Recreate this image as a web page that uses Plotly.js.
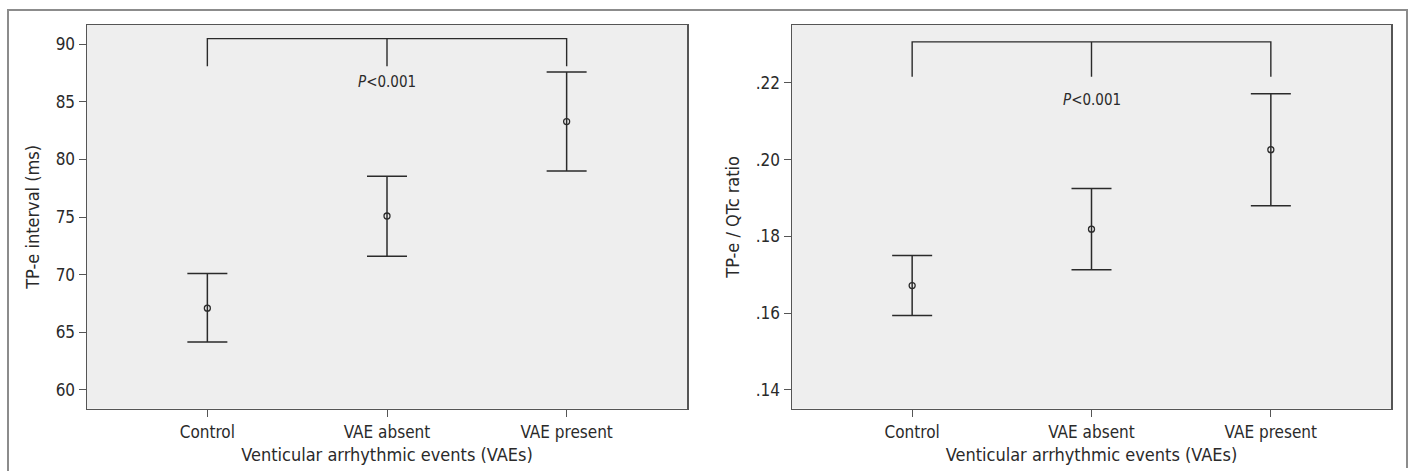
<!DOCTYPE html>
<html>
<head>
<meta charset="utf-8">
<script src="https://cdn.plot.ly/plotly-3.0.1.min.js"></script>
<style>html,body{margin:0;padding:0;background:#fff;}#chart{width:1410px;height:471px;}</style>
</head>
<body>
<div id="chart"></div>
<script>
// Categories
var categories = ["Control", "VAE absent", "VAE present"];
var catIndex = [0, 1, 2];

// Left panel: TP-e interval (ms) — mean and 95% CI
var tpeMean  = [67.1, 75.1, 83.3];
var tpeUpper = [70.1, 78.55, 87.6];
var tpeLower = [64.15, 71.6, 79.0];
var tpeTicks = [60, 65, 70, 75, 80, 85, 90];
var tpeTickText = ["60", "65", "70", "75", "80", "85", "90"];
var tpeBracketTop = 90.5, tpeBracketLeg = 88.1, tpePText = 86.7;

// Right panel: TP-e / QTc ratio — mean and 95% CI
var ratioMean  = [0.1672, 0.1819, 0.2026];
var ratioUpper = [0.1750, 0.1925, 0.2172];
var ratioLower = [0.1594, 0.1713, 0.1880];
var ratioTicks = [0.14, 0.16, 0.18, 0.20, 0.22];
var ratioTickText = [".14", ".16", ".18", ".20", ".22"];
var ratioBracketTop = 0.2307, ratioBracketLeg = 0.2216, ratioPText = 0.2155;

var pLabel = "<i>P</i>&lt;0.001";
var xTitle = "Venticular arrhythmic events (VAEs)";

var FONT = '"Liberation Sans Narrow", "DejaVu Sans Condensed", "Liberation Sans", Arial, sans-serif';
var INK = "#2a2a2a";

function errTrace(mean, up, lo, xa, ya) {
  return {
    type: "scatter", mode: "markers", x: catIndex, y: mean, xaxis: xa, yaxis: ya,
    marker: {symbol: "circle-open", size: 6, color: INK, line: {width: 1.3, color: INK}},
    error_y: {type: "data", symmetric: false,
      array: mean.map(function (m, i) { return up[i] - m; }),
      arrayminus: mean.map(function (m, i) { return m - lo[i]; }),
      color: INK, thickness: 1.5, width: 20},
    hoverinfo: "skip", showlegend: false, cliponaxis: false
  };
}
function bracketTrace(top, leg, xa, ya) {
  return {
    type: "scatter", mode: "lines", xaxis: xa, yaxis: ya,
    x: [catIndex[0], catIndex[0], catIndex[2], catIndex[2], null, catIndex[1], catIndex[1]],
    y: [leg, top, top, leg, null, top, leg],
    line: {color: INK, width: 1.4}, hoverinfo: "skip", showlegend: false
  };
}

var data = [
  bracketTrace(tpeBracketTop, tpeBracketLeg, "x", "y"),
  errTrace(tpeMean, tpeUpper, tpeLower, "x", "y"),
  bracketTrace(ratioBracketTop, ratioBracketLeg, "x2", "y2"),
  errTrace(ratioMean, ratioUpper, ratioLower, "x2", "y2")
];

function xAxis(domain, anchor) {
  return {
    domain: domain, anchor: anchor, range: [-0.67, 2.67],
    tickvals: catIndex, ticktext: categories,
    ticks: "outside", ticklen: 7, tickwidth: 1, tickcolor: "#555",
    showline: true, linecolor: "#555", linewidth: 1.5, mirror: true,
    showgrid: false, zeroline: false,
    tickfont: {family: FONT, size: 17, color: INK},
    title: {text: xTitle, font: {family: FONT, size: 18, color: INK}, standoff: 8}
  };
}
function yAxis(domain, anchor, range, tv, tt, title) {
  return {
    domain: domain, anchor: anchor, range: range,
    tickvals: tv, ticktext: tt,
    ticks: "outside", ticklen: 7, tickwidth: 1, tickcolor: "#555",
    showline: true, linecolor: "#555", linewidth: 1.5, mirror: true,
    showgrid: false, zeroline: false,
    tickfont: {family: FONT, size: 17, color: INK},
    title: {text: title, font: {family: FONT, size: 18, color: INK}, standoff: 11}
  };
}

var W = 1410, H = 471;
var yDom = [1 - 408.7 / H, 1 - 25 / H];
var layout = {
  width: W, height: H,
  margin: {l: 0, r: 0, t: 0, b: 0},
  paper_bgcolor: "#ffffff",
  plot_bgcolor: "#eeeeee",
  showlegend: false,
  xaxis: xAxis([87 / W, 687 / W], "y"),
  yaxis: yAxis(yDom, "x", [58.37, 91.68], tpeTicks, tpeTickText, "TP-e interval (ms)"),
  xaxis2: xAxis([792 / W, 1391 / W], "y2"),
  yaxis2: yAxis(yDom, "x2", [0.1351, 0.2351], ratioTicks, ratioTickText, "TP-e / QTc ratio"),
  annotations: [
    {xref: "x", yref: "y", x: catIndex[1], y: tpePText, text: pLabel, showarrow: false,
     font: {family: FONT, size: 15, color: INK}},
    {xref: "x2", yref: "y2", x: catIndex[1], y: ratioPText, text: pLabel, showarrow: false,
     font: {family: FONT, size: 15, color: INK}}
  ],
  shapes: [
    {type: "path", xref: "paper", yref: "paper",
     path: "M " + (8 / W) + "," + 0 + " L " + (8 / W) + "," + (1 - 10 / H) + " L " + (1407 / W) + "," + (1 - 10 / H) + " L " + (1407 / W) + "," + (3 / H),
     line: {color: "#8c8c8c", width: 2}}
  ]
};

Plotly.newPlot("chart", data, layout, {staticPlot: true, displayModeBar: false});
</script>
</body>
</html>
